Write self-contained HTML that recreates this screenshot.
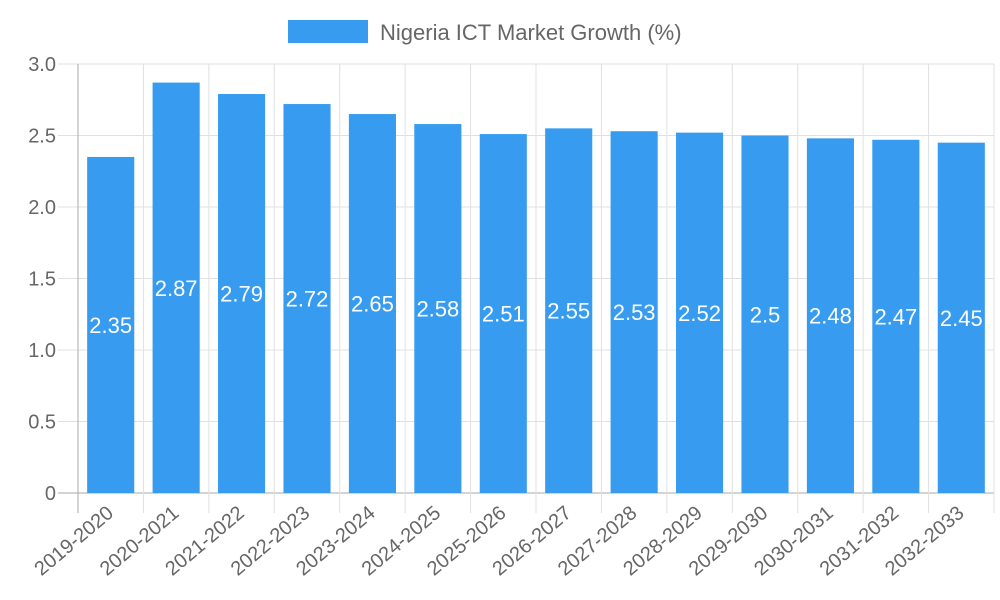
<!DOCTYPE html>
<html><head><meta charset="utf-8"><style>body{margin:0;background:#fff}svg{display:block;font-family:"Liberation Sans",sans-serif}</style></head>
<body>
<svg id="c" width="1000" height="600">
<rect x="288" y="20" width="80" height="23" fill="#379cf0"/>
<text x="380" y="40" font-size="22" fill="#666">Nigeria ICT Market Growth (%)</text>
</svg>
<script>
const categories=["2019-2020","2020-2021","2021-2022","2022-2023","2023-2024","2024-2025","2025-2026","2026-2027","2027-2028","2028-2029","2029-2030","2030-2031","2031-2032","2032-2033"];
const values=[2.35,2.87,2.79,2.72,2.65,2.58,2.51,2.55,2.53,2.52,2.5,2.48,2.47,2.45];
const yTicks=[0,0.5,1.0,1.5,2.0,2.5,3.0];
const yTickLabels=["0","0.5","1.0","1.5","2.0","2.5","3.0"];
const svg=document.getElementById('c');const NS='http://www.w3.org/2000/svg';
const L=78,R=994,T=64,B=493,yMax=3;
const y=v=>B-(v/yMax)*(B-T);
const bw=(R-L)/categories.length;
const x=i=>L+bw*i;
function mk(t,a,txt){const e=document.createElementNS(NS,t);for(const k in a)e.setAttribute(k,a[k]);if(txt!==undefined)e.textContent=txt;svg.appendChild(e);return e;}
yTicks.forEach((t,i)=>{
 const g=mk('line',{x1:58,x2:R,y1:y(t),y2:y(t),stroke:i===0?'#aaa':'#e0e0e0','stroke-width':1});
 
 
 const l=mk('text',{x:56,y:y(t)+7,'text-anchor':'end','font-size':20,fill:'#666'},yTickLabels[i]);
 
 
});
for(let i=0;i<=categories.length;i++){
 const g=mk('line',{x1:x(i),x2:x(i),y1:T,y2:B+20,stroke:i===0?'#aaa':'#e0e0e0','stroke-width':1});
 
 
}
categories.forEach((c,i)=>{
 const cx=x(i)+bw/2,w=bw*0.72;
 const b=mk('rect',{x:cx-w/2,y:y(values[i]),width:w,height:B-y(values[i]),fill:'#379cf0'});
 
 
 const v=mk('text',{x:cx,y:(y(values[i])+B)/2+8,'text-anchor':'middle','font-size':22,fill:'#fff'},String(values[i]));
 
 
 const t=mk('text',{x:cx+4,y:B+22,'text-anchor':'end','font-size':20,fill:'#666',transform:`rotate(-40 ${cx+4} ${B+22})`},c);
 
 
});
</script>
</body></html>
